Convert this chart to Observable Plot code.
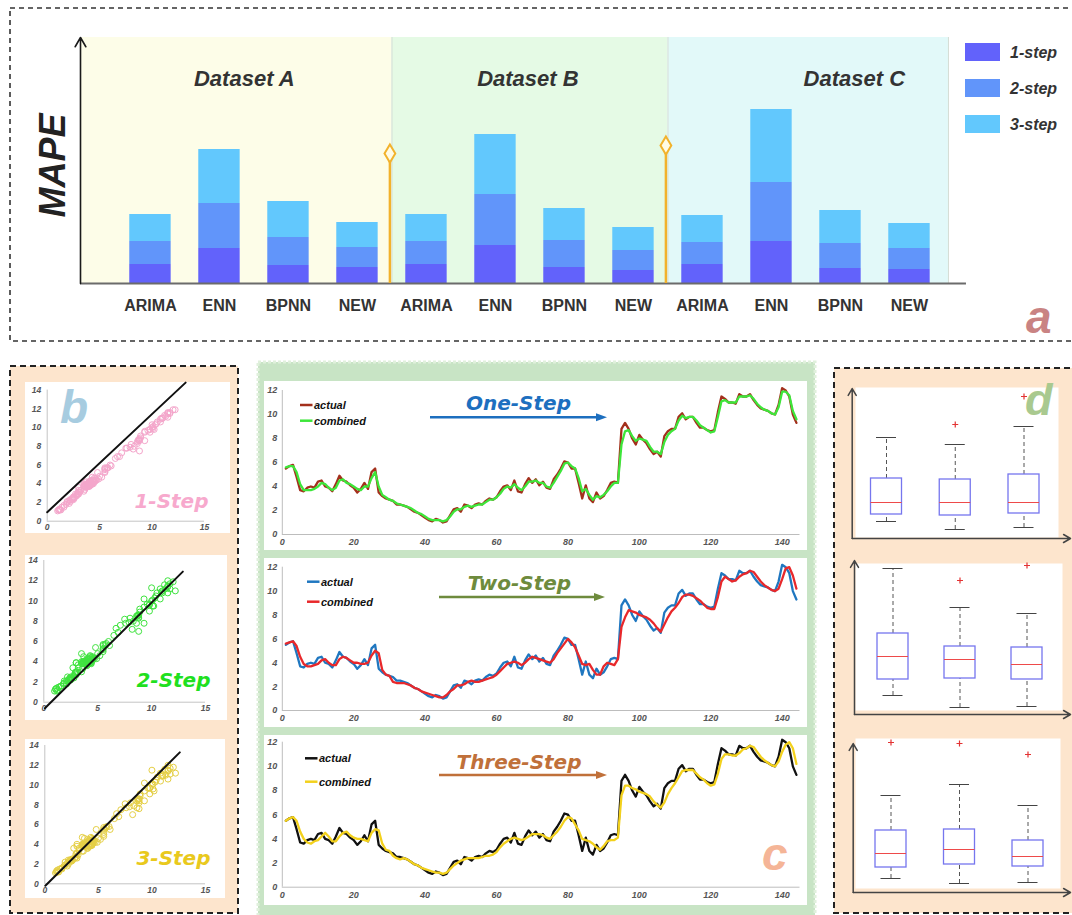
<!DOCTYPE html>
<html>
<head>
<meta charset="utf-8">
<script src="https://cdn.jsdelivr.net/npm/d3@7"></script>
<script src="https://cdn.jsdelivr.net/npm/@observablehq/plot@0.6"></script>
<style>
  body { margin: 0; background: #fff; }
  #fig { position: relative; width: 1072px; height: 915px; overflow: hidden; }
</style>
</head>
<body>
<div id="fig"></div>
<script>
// ---------- data ----------
const models = ["ARIMA", "ENN", "BPNN", "NEW"];
const datasets = ["Dataset A", "Dataset B", "Dataset C"];
const steps = ["1-step", "2-step", "3-step"];
const stepColors = ["#6262fb", "#6195fa", "#62c8fd"];
const datasetFills = ["#fdfde8", "#e5fae5", "#e2f9f9"];

// MAPE share of each horizon, ordered A(ARIMA, ENN, BPNN, NEW), B(...), C(...)
const mape1 = [1.9, 3.5, 1.8, 1.6, 1.9, 3.8, 1.6, 1.3, 1.9, 4.2, 1.5, 1.4];
const mape2 = [2.3, 4.5, 2.8, 2.0, 2.3, 5.1, 2.7, 2.0, 2.2, 5.9, 2.5, 2.1];
const mape3 = [2.7, 5.4, 3.6, 2.5, 2.7, 6.0, 3.2, 2.3, 2.7, 7.3, 3.3, 2.5];

// observed series, t = 1..144
const actual = [
  5.5, 5.7, 5.8, 4.8, 3.7, 3.6, 3.9, 4.0, 3.9, 4.4,
  4.5, 4.0, 3.9, 3.6, 4.2, 4.9, 4.5, 4.4, 4.1, 3.9,
  3.5, 3.8, 4.3, 3.8, 5.2, 5.5, 3.5, 3.2, 3.0, 2.9,
  2.8, 2.5, 2.5, 2.4, 2.3, 2.1, 1.9, 1.8, 1.6, 1.4,
  1.2, 1.1, 1.3, 1.2, 1.0, 1.1, 1.6, 2.1, 2.2, 1.9,
  2.5, 2.4, 2.2, 2.5, 2.6, 2.5, 2.8, 3.0, 2.9, 3.1,
  3.6, 4.0, 4.1, 3.7, 4.5, 3.6, 3.5, 4.2, 4.7, 4.3,
  4.6, 4.1, 4.4, 3.9, 3.8, 4.6, 5.0, 5.5, 6.1, 6.0,
  5.5, 5.5, 4.3, 3.0, 4.1, 3.0, 2.7, 3.5, 3.0, 3.2,
  3.7, 4.3, 4.4, 4.3, 8.8, 9.3, 8.8, 8.0, 7.5, 8.3,
  7.9, 7.6, 7.1, 6.7, 6.9, 6.5, 8.2, 8.6, 8.8, 8.8,
  9.8, 10.1, 9.6, 9.8, 9.8, 9.3, 8.9, 8.9, 8.7, 8.6,
  8.7, 10.2, 11.5, 11.3, 11.0, 11.0, 10.9, 11.7, 11.5, 11.5,
  11.7, 11.2, 10.8, 10.5, 10.4, 10.3, 10.1, 10.0, 10.8, 12.2,
  12.0, 11.5, 10.0, 9.3
];
// combined-model forecasts for each horizon
const combined1 = [
  5.6, 5.7, 5.7, 5.2, 4.2, 3.7, 3.7, 3.7, 3.8, 4.0,
  4.3, 4.2, 3.9, 3.7, 3.9, 4.5, 4.6, 4.3, 4.2, 4.0,
  3.8, 3.7, 4.0, 4.0, 4.7, 5.2, 4.0, 3.3, 3.1, 2.9,
  2.8, 2.6, 2.5, 2.4, 2.3, 2.2, 2.0, 1.8, 1.7, 1.5,
  1.3, 1.2, 1.2, 1.2, 1.1, 1.2, 1.5, 1.9, 2.1, 2.1,
  2.3, 2.4, 2.3, 2.4, 2.5, 2.5, 2.7, 2.9, 2.9, 3.1,
  3.4, 3.8, 4.0, 3.9, 4.2, 3.9, 3.7, 4.0, 4.4, 4.4,
  4.5, 4.3, 4.3, 4.0, 3.9, 4.3, 4.8, 5.3, 5.9, 6.0,
  5.7, 5.5, 4.7, 3.6, 3.8, 3.3, 2.9, 3.2, 3.1, 3.3,
  3.6, 4.0, 4.3, 4.3, 7.5, 8.6, 8.7, 8.2, 7.8, 8.0,
  7.9, 7.8, 7.3, 6.9, 6.9, 6.7, 7.7, 8.3, 8.6, 8.8,
  9.5, 9.9, 9.7, 9.8, 9.8, 9.5, 9.1, 8.9, 8.7, 8.5,
  8.6, 9.8, 11.1, 11.2, 11.0, 11.0, 11.0, 11.5, 11.5, 11.5,
  11.6, 11.3, 10.9, 10.6, 10.4, 10.3, 10.1, 10.0, 10.6, 11.9,
  11.9, 11.6, 10.3, 9.6
];
const combined2 = [
  5.6, 5.7, 5.8, 5.4, 4.5, 3.9, 3.7, 3.7, 3.8, 3.9,
  4.2, 4.3, 4.0, 3.8, 3.8, 4.3, 4.5, 4.4, 4.2, 4.0,
  4.0, 3.9, 3.9, 4.0, 4.6, 5.0, 4.8, 3.4, 3.0, 2.9,
  2.4, 2.3, 2.3, 2.3, 2.2, 2.1, 1.9, 1.8, 1.6, 1.5,
  1.4, 1.3, 1.2, 1.1, 1.1, 1.3, 1.6, 1.8, 2.1, 2.1,
  2.2, 2.4, 2.5, 2.4, 2.4, 2.5, 2.6, 2.7, 2.8, 3.0,
  3.3, 3.6, 3.9, 4.0, 4.1, 4.0, 3.8, 4.0, 4.3, 4.5,
  4.4, 4.3, 4.2, 4.1, 4.0, 4.3, 4.8, 5.2, 5.6, 6.0,
  5.7, 5.3, 4.6, 3.9, 3.8, 3.9, 3.4, 3.0, 3.0, 3.7,
  4.0, 3.9, 3.8, 4.3, 7.0, 7.8, 8.4, 8.3, 8.2, 8.0,
  7.9, 7.8, 7.6, 7.3, 6.9, 6.6, 7.2, 7.8, 8.3, 8.6,
  9.0, 9.5, 9.7, 9.7, 9.6, 9.4, 9.2, 8.9, 8.6, 8.5,
  8.5, 9.5, 10.8, 11.2, 11.0, 10.8, 10.9, 11.2, 11.4, 11.5,
  11.7, 11.6, 11.2, 10.8, 10.5, 10.3, 10.1, 10.0, 10.2, 11.0,
  11.9, 12.0, 11.3, 10.2
];
const combined3 = [
  5.5, 5.7, 5.8, 5.5, 4.6, 4.0, 3.7, 3.6, 3.8, 3.9,
  4.2, 4.5, 4.2, 3.8, 3.8, 4.2, 4.5, 4.6, 4.3, 4.1,
  4.0, 4.0, 3.9, 3.8, 4.5, 4.8, 4.7, 3.6, 3.1, 3.0,
  2.6, 2.4, 2.3, 2.4, 2.3, 2.1, 1.9, 1.8, 1.6, 1.5,
  1.4, 1.3, 1.2, 1.2, 1.1, 1.2, 1.5, 1.8, 2.0, 2.2,
  2.3, 2.4, 2.4, 2.4, 2.4, 2.5, 2.6, 2.6, 2.7, 2.9,
  3.3, 3.6, 3.8, 4.0, 4.1, 4.0, 3.9, 4.0, 4.2, 4.4,
  4.4, 4.4, 4.3, 4.1, 4.0, 4.3, 4.6, 5.0, 5.5, 5.8,
  5.7, 5.2, 4.7, 4.0, 3.9, 3.8, 3.6, 3.3, 3.1, 3.4,
  3.8, 3.9, 3.9, 4.1, 7.6, 8.4, 8.4, 8.2, 8.1, 7.9,
  7.8, 7.7, 7.5, 7.1, 6.8, 6.6, 7.0, 7.7, 8.2, 8.6,
  9.1, 9.6, 9.7, 9.7, 9.7, 9.4, 9.1, 8.9, 8.6, 8.4,
  8.5, 9.4, 10.6, 11.0, 11.0, 10.9, 10.9, 11.1, 11.4, 11.5,
  11.7, 11.6, 11.2, 10.8, 10.5, 10.3, 10.1, 10.0, 10.4, 11.2,
  11.8, 12.0, 11.5, 10.2
];

// reference lines of the scatter panels: [start, end] as [actual, forecast]
const refLines = [
  [[0, 0.96], [13.2, 14.8]],
  [[0.1, -0.6], [12.9, 12.9]],
  [[0.05, -0.2], [12.6, 13.3]]
];

// box-plot statistics: one row per panel, three boxes per row
const whiskerLow  = [[1.7, 0.9, 1.1], [1.9, 0.7, 0.8], [1.4, 0.9, 1.0]];
const quartile1   = [[2.4, 2.3, 2.5], [3.5, 3.6, 3.5], [2.5, 2.8, 2.6]];
const medians     = [[3.6, 3.6, 3.6], [5.8, 5.5, 5.0], [3.9, 4.3, 3.6]];
const quartile3   = [[6.0, 5.9, 6.4], [8.1, 6.8, 6.7], [6.2, 6.3, 5.2]];
const whiskerHigh = [[10.1, 9.4, 11.2], [14.6, 10.7, 10.1], [9.7, 10.8, 8.7]];
const outliers    = [[null, 11.4, 14.2], [null, 13.4, 14.9], [15.0, 14.9, 13.8]];

// ---------- helpers ----------
const SANS = "'Liberation Sans', Arial, Helvetica, sans-serif";
const WIDE = "'DejaVu Sans', Verdana, sans-serif";
const fig = document.getElementById("fig");
function place(node, left, top, z) {
  node.style.position = "absolute";
  node.style.left = left + "px";
  node.style.top = top + "px";
  node.style.zIndex = z;
  node.style.maxWidth = "none";
  fig.appendChild(node);
  return node;
}
// tall hollow diamond used on the dataset separators
const tallDiamond = {
  draw(ctx, size) {
    const r = Math.sqrt(size / Math.PI);
    ctx.moveTo(0, -r); ctx.lineTo(0.6 * r, 0); ctx.lineTo(0, r); ctx.lineTo(-0.6 * r, 0); ctx.closePath();
  }
};
// "+" marker for box-plot outliers
const plusMark = {
  draw(ctx, size) {
    const r = Math.sqrt(size / Math.PI);
    ctx.moveTo(-r, 0); ctx.lineTo(r, 0); ctx.moveTo(0, -r); ctx.lineTo(0, r);
  }
};

// ---------- background panels ----------
const bg = d3.create("svg").attr("width", 1072).attr("height", 915);
bg.append("rect").attr("x", 10).attr("y", 8).attr("width", 1075).attr("height", 333)
  .attr("fill", "#fff").attr("stroke", "#333").attr("stroke-width", 1.6).attr("stroke-dasharray", "5,4");
bg.append("rect").attr("x", 10).attr("y", 366).attr("width", 228).attr("height", 547)
  .attr("fill", "#fde5cd").attr("stroke", "#222").attr("stroke-width", 2).attr("stroke-dasharray", "6,4");
bg.append("rect").attr("x", 258).attr("y", 362).attr("width", 557).attr("height", 560)
  .attr("fill", "#c8e4c5").attr("stroke", "#e0f0dc").attr("stroke-width", 3).attr("stroke-dasharray", "3,2");
bg.append("rect").attr("x", 834).attr("y", 368).attr("width", 250).attr("height", 545)
  .attr("fill", "#fde5cd").attr("stroke", "#222").attr("stroke-width", 2).attr("stroke-dasharray", "6,4");
place(bg.node(), 0, 0, 0);

// ---------- panel a: stacked MAPE bars ----------
const nm = models.length;
const mapeBySteps = [mape1, mape2, mape3];
const barRows = [];
mape1.forEach((_, i) => {
  let base = 0;
  mapeBySteps.forEach((arr, k) => {
    barRows.push({i, step: steps[k], y1: base, y2: base + arr[i]});
    base += arr[i];
  });
});
const xStart = -1.014, xBandEnd = 11.565, xEnd = 11.696, yTop = 24.6;
const groups = datasets.map((name, g) => ({
  name,
  x1: g === 0 ? xStart : g * nm - 0.5,
  x2: g === datasets.length - 1 ? xBandEnd : (g + 1) * nm - 0.5,
  center: g * nm + (nm - 1) / 2
}));
const labelNudge = [-0.14, -0.03, 0.70];
const separators = [{x: groups[1].x1 - 0.03, top: 13.0}, {x: groups[2].x1 - 0.03, top: 13.8}];

const plotA = Plot.plot({
  width: 1072, height: 345,
  marginLeft: 80, marginRight: 115, marginTop: 37, marginBottom: 62,
  style: {background: "transparent", fontFamily: SANS, color: "#333", overflow: "visible"},
  x: {domain: [xStart, xEnd], axis: null},
  y: {domain: [0, yTop], axis: null},
  color: {domain: steps, range: stepColors},
  marks: [
    ...groups.map((gr, g) => Plot.rect([gr], {x1: "x1", x2: "x2", y1: 0, y2: yTop, fill: datasetFills[g]})),
    Plot.ruleX(groups, {x: "x2", y1: 0, y2: yTop, stroke: "#d5ddd5", strokeWidth: 1}),
    Plot.rect(barRows, {x1: d => d.i - 0.3, x2: d => d.i + 0.3, y1: "y1", y2: "y2", fill: "step"}),
    Plot.ruleY([0], {x1: xStart, x2: xEnd + 0.13, stroke: "#6b6b6b", strokeWidth: 2}),
    Plot.arrow([0], {x1: xStart, x2: xStart, y1: 0, y2: yTop, stroke: "#1a1a1a", strokeWidth: 1.6, headLength: 10}),
    Plot.ruleX(separators, {x: "x", y1: 0, y2: "top", stroke: "#f2b22c", strokeWidth: 2.5}),
    Plot.dot(separators, {x: "x", y: "top", symbol: tallDiamond, r: 9, fill: "#fffbe6", stroke: "#f2b22c", strokeWidth: 2}),
    Plot.text(groups, {x: (d, g) => d.center + labelNudge[g], y: 20.5, text: "name",
      fontSize: 22, fontWeight: "bold", fontStyle: "italic", fill: "#333"}),
    Plot.axisX({ticks: d3.range(mape1.length), tickFormat: i => models[i % nm], tickSize: 0, tickPadding: 16,
      fontSize: 16, fontWeight: "bold"}),
    Plot.text(["MAPE"], {text: d => d, frameAnchor: "left", textAnchor: "middle", lineAnchor: "middle",
      dx: -27, dy: 5, rotate: -90, fontSize: 36, fontWeight: "bold", fontStyle: "italic", fill: "#222"})
  ]
});
place(plotA, 0, 0, 1);

// ---------- panel b: forecast vs actual scatter ----------
const scatterSpecs = [
  {pred: combined1, color: "#f4a6cb", labelColor: "#f7a9cd", label: "1-Step", box: {left: 25, top: 382, width: 205, height: 151, ml: 21.7, mr: 26, mt: 7.6, mb: 12.3, dx: 4, dy: -13}},
  {pred: combined2, color: "#3fe33f", labelColor: "#1fe01f", label: "2-Step", box: {left: 25, top: 555, width: 202, height: 165, ml: 18.3, mr: 22, mt: 5, mb: 18.3, dx: 5, dy: -15.7}},
  {pred: combined3, color: "#e5cf45", labelColor: "#e9c91d", label: "3-Step", box: {left: 25, top: 739, width: 200, height: 159, ml: 19.3, mr: 20, mt: 6, mb: 14.7, dx: 5, dy: -19}}
];
scatterSpecs.forEach((s, k) => {
  const pts = actual.map((a, i) => ({a, p: s.pred[i]}));
  const b = s.box;
  const p = Plot.plot({
    width: b.width, height: b.height,
    marginLeft: b.ml, marginRight: b.mr, marginTop: b.mt, marginBottom: b.mb,
    style: {background: "white", fontFamily: SANS, fontSize: "8.5px", fontStyle: "italic", fontWeight: "bold", color: "#555", overflow: "visible"},
    x: {domain: [0, 15], label: null},
    y: {domain: [0, 14], label: null},
    marks: [
      Plot.ruleY([0], {stroke: "#c4c4c4"}),
      Plot.ruleX([0], {stroke: "#c4c4c4"}),
      Plot.axisX({ticks: [0, 5, 10, 15], tickSize: 0, tickPadding: 3, label: null}),
      Plot.axisY({ticks: d3.range(0, 15, 2), tickSize: 0, tickPadding: 6, label: null}),
      Plot.dot(pts, {x: "a", y: "p", r: 3, stroke: s.color, strokeWidth: 1}),
      Plot.line(refLines[k], {x: d => d[0], y: d => d[1], stroke: "#111", strokeWidth: 2}),
      Plot.text([s.label], {text: d => d, frameAnchor: "bottom-right", textAnchor: "end", lineAnchor: "bottom",
        dx: b.dx, dy: b.dy, fontFamily: WIDE, fontSize: 20, fontWeight: "bold", fontStyle: "italic", fill: s.labelColor})
    ]
  });
  place(p, b.left, b.top, 1);
});

// ---------- panel c: actual vs combined series ----------
const seriesSpecs = [
  {pred: combined1, colors: ["#a3301c", "#3de63a"], box: {top: 381, height: 169, mt: 9, mb: 16}},
  {pred: combined2, colors: ["#1f77c0", "#e8282b"], box: {top: 558, height: 169, mt: 8.7, mb: 17}},
  {pred: combined3, colors: ["#111111", "#f3d11c"], box: {top: 735, height: 170, mt: 6.7, mb: 18.3}}
];
seriesSpecs.forEach(s => {
  const b = s.box;
  const p = Plot.plot({
    width: 543, height: b.height,
    marginLeft: 17.8, marginRight: 7.5, marginTop: b.mt, marginBottom: b.mb,
    style: {background: "white", fontFamily: SANS, fontSize: "9px", fontStyle: "italic", fontWeight: "bold", color: "#555", overflow: "visible"},
    x: {domain: [0, 145], label: null},
    y: {domain: [0, 12], label: null},
    marks: [
      Plot.ruleY([0], {stroke: "#bdbdbd"}),
      Plot.ruleX([0], {stroke: "#bdbdbd"}),
      Plot.axisX({ticks: d3.range(0, 141, 20), tickSize: 0, tickPadding: 4, label: null}),
      Plot.axisY({ticks: d3.range(0, 13, 2), tickSize: 0, tickPadding: 5, label: null}),
      Plot.lineY(actual, {x: (d, i) => i + 1, y: d => d, stroke: s.colors[0], strokeWidth: 2.3}),
      Plot.lineY(s.pred, {x: (d, i) => i + 1, y: d => d, stroke: s.colors[1], strokeWidth: 2.3})
    ]
  });
  place(p, 264, b.top, 1);
});

// ---------- panel d: error box plots ----------
const boxLayouts = [
  {top: 383, height: 160, centers: [886, 954.5, 1023.5], axisX: 851.7, zeroY: 538, topY: 388, white: [855, 1058, 387, 537]},
  {top: 555, height: 165, centers: [892.5, 959.5, 1026.5], axisX: 854, zeroY: 714, topY: 560, white: [855, 1062, 563, 710]},
  {top: 735, height: 162, centers: [890.5, 958.7, 1027.5], axisX: 852.7, zeroY: 892, topY: 743, white: [855, 1060, 738, 888]}
];
boxLayouts.forEach((L, k) => {
  const left = 845, width = 227;
  const step = (L.centers[2] - L.centers[0]) / 2;
  const x0 = L.centers[0] - left;
  const y0 = L.zeroY - L.top;
  const axisAt = 1 + (L.axisX - L.centers[0]) / step;
  const endAt = 1 + (1070 - L.centers[0]) / step;
  const topAt = (L.zeroY - L.topY) / 10;
  const rows = [0, 1, 2].map(j => ({
    x: j + 1, lo: whiskerLow[k][j], q1: quartile1[k][j], med: medians[k][j],
    q3: quartile3[k][j], hi: whiskerHigh[k][j], out: outliers[k][j]
  }));
  const bw = 15.5 / step, cw = 10 / step;
  const p = Plot.plot({
    width, height: L.height,
    marginLeft: L.white[0] - left, marginRight: left + width - L.white[1],
    marginTop: L.white[2] - L.top, marginBottom: L.top + L.height - L.white[3],
    style: {background: "transparent", overflow: "visible"},
    x: {domain: [1, 3], range: [x0, x0 + 2 * step], axis: null},
    y: {domain: [0, 10], range: [y0, y0 - 100], axis: null},
    marks: [
      Plot.frame({fill: "white", stroke: "none"}),
      Plot.ruleX(rows, {x: "x", y1: "q3", y2: "hi", stroke: "#555", strokeDasharray: "4,3"}),
      Plot.ruleX(rows, {x: "x", y1: "lo", y2: "q1", stroke: "#555", strokeDasharray: "4,3"}),
      Plot.ruleY(rows, {y: "hi", x1: d => d.x - cw, x2: d => d.x + cw, stroke: "#444"}),
      Plot.ruleY(rows, {y: "lo", x1: d => d.x - cw, x2: d => d.x + cw, stroke: "#444"}),
      Plot.rect(rows, {x1: d => d.x - bw, x2: d => d.x + bw, y1: "q1", y2: "q3", fill: "white", stroke: "#7676ee", strokeWidth: 1.3}),
      Plot.ruleY(rows, {y: "med", x1: d => d.x - bw, x2: d => d.x + bw, stroke: "#ee4a4a"}),
      Plot.dot(rows.filter(d => d.out != null), {x: "x", y: "out", symbol: plusMark, r: 3, stroke: "#e33333", strokeWidth: 1.2}),
      Plot.arrow([0], {x1: axisAt, x2: axisAt, y1: 0, y2: topAt, stroke: "#444", strokeWidth: 1.5, headLength: 8}),
      Plot.arrow([0], {x1: axisAt, x2: endAt, y1: 0, y2: 0, stroke: "#444", strokeWidth: 1.5, headLength: 8})
    ]
  });
  place(p, left, L.top, 1);
});

// ---------- annotations: legends, titles, panel letters ----------
const ann = d3.create("svg").attr("width", 1072).attr("height", 915).style("pointer-events", "none");
function say(txt, x, y, size, fill, opts = {}) {
  return ann.append("text").attr("x", x).attr("y", y).text(txt)
    .attr("font-family", opts.family || SANS).attr("font-size", size)
    .attr("font-weight", "bold").attr("font-style", opts.upright ? "normal" : "italic")
    .attr("fill", fill).attr("text-anchor", opts.anchor || "start");
}
// legend of panel a
steps.forEach((s, k) => {
  ann.append("rect").attr("x", 965).attr("y", 43 + 36 * k).attr("width", 35).attr("height", 18).attr("fill", stepColors[k]);
  say(s, 1010, 43 + 36 * k + 15, 16, "#333");
});
// legends of panel c
const legendSpots = [{x: 300, y: [405, 420.7]}, {x: 307, y: [581.7, 601.7]}, {x: 305, y: [758.3, 781.7]}];
seriesSpecs.forEach((s, k) => {
  const L = legendSpots[k];
  ["actual", "combined"].forEach((name, j) => {
    ann.append("line").attr("x1", L.x).attr("x2", L.x + 12.5).attr("y1", L.y[j]).attr("y2", L.y[j])
      .attr("stroke", s.colors[j]).attr("stroke-width", 2.5);
    say(name, L.x + 14, L.y[j] + 4, 11, "#111");
  });
});
// horizon titles with arrows in panel c
const cTitles = [
  {text: "One-Step", color: "#1d6fbf", cx: 518.5, base: 410, ay: 417.3, ax1: 430, ax2: 607},
  {text: "Two-Step", color: "#6e8b3d", cx: 519.5, base: 590, ay: 597, ax1: 439, ax2: 605},
  {text: "Three-Step", color: "#c0703a", cx: 519, base: 769, ay: 775, ax1: 439, ax2: 607}
];
cTitles.forEach(t => {
  ann.append("line").attr("x1", t.ax1).attr("x2", t.ax2 - 9).attr("y1", t.ay).attr("y2", t.ay)
    .attr("stroke", t.color).attr("stroke-width", 2.6);
  ann.append("path").attr("d", `M${t.ax2},${t.ay}L${t.ax2 - 11},${t.ay - 4}L${t.ax2 - 11},${t.ay + 4}Z`).attr("fill", t.color);
  say(t.text, t.cx, t.base, 20, t.color, {family: WIDE, anchor: "middle"});
});
// panel letters
say("a", 1026, 333, 46, "#c98383");
say("b", 60, 423, 46, "#a7cce0");
say("c", 762, 870, 46, "#f5b597");
say("d", 1025, 415, 45, "#a9c98f");
place(ann.node(), 0, 0, 2);
</script>
</body>
</html>
